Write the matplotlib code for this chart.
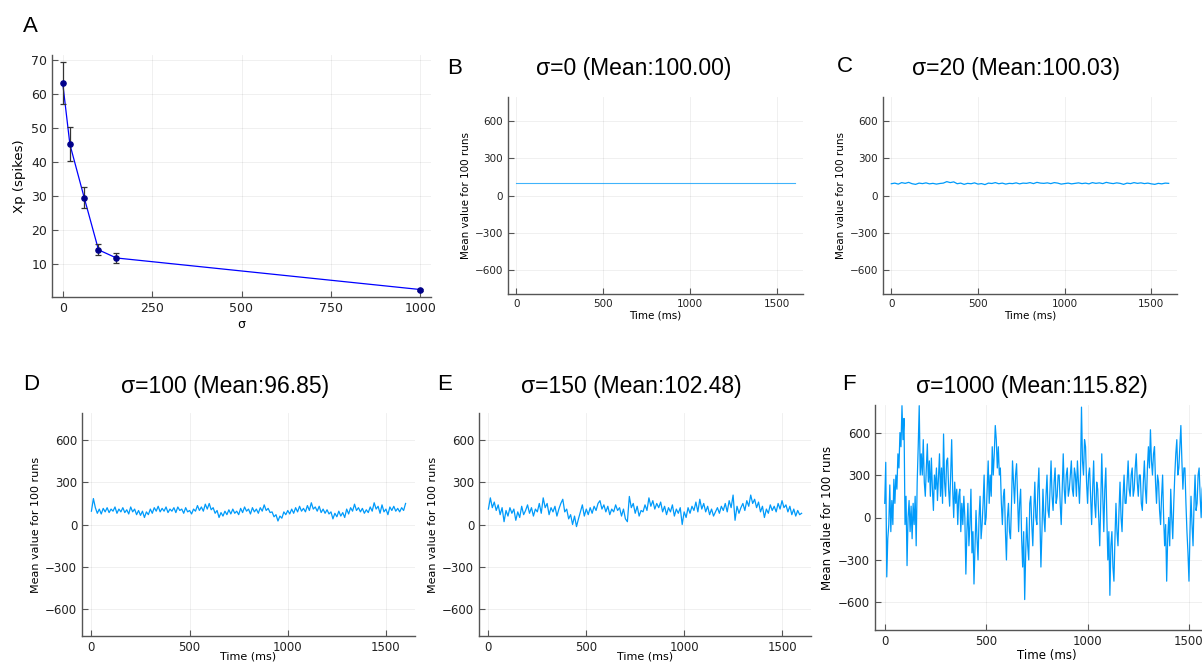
import numpy as np
import matplotlib.pyplot as plt

plt.rcParams['font.family'] = ['DejaVu Sans']

# panel A
sigmas = [0, 20, 60, 100, 150, 1000]
xp_mean = [63.3, 45.3, 29.6, 14.2, 11.8, 2.5]
xp_err = [6.2, 5.0, 3.0, 1.6, 1.5, 0.3]

# panels B-F, evenly sampled over 0..1600 ms
b_vals = [100.0, 100.0]
b_time = [0, 1600]

c_vals = [95, 100, 92, 104, 98, 106, 95, 90, 100, 96,
          102, 94, 98, 92, 97, 100, 112, 104, 110, 95,
          100, 90, 98, 95, 102, 92, 96, 88, 100, 97,
          104, 95, 100, 92, 98, 96, 102, 94, 100, 98,
          104, 96, 106, 100, 98, 102, 96, 104, 100, 92,
          96, 100, 94, 98, 102, 96, 100, 94, 104, 98,
          102, 96, 106, 100, 96, 102, 98, 90, 100, 96,
          104, 98, 102, 96, 100, 94, 90, 98, 94, 100,
          98]

d_vals = [95, 185, 120, 80, 110, 75, 115, 90, 120, 85,
          110, 95, 125, 80, 110, 90, 120, 85, 105, 75,
          125, 90, 110, 70, 100, 65, 95, 50, 90, 70,
          110, 80, 120, 95, 130, 90, 115, 95, 125, 85,
          110, 95, 120, 85, 125, 100, 110, 80, 120, 90,
          100, 75, 110, 95, 135, 100, 125, 95, 145, 110,
          150, 105, 120, 80, 100, 50, 85, 60, 95, 70,
          105, 75, 110, 80, 95, 70, 115, 85, 125, 95,
          110, 75, 120, 90, 110, 80, 120, 95, 140, 100,
          115, 85, 90, 55, 70, 25, 60, 45, 90, 70,
          100, 75, 110, 80, 120, 90, 130, 95, 115, 90,
          135, 100, 155, 110, 125, 95, 130, 85, 110, 80,
          105, 75, 90, 40, 80, 55, 95, 60, 85, 50,
          110, 75, 120, 95, 145, 100, 120, 90, 115, 80,
          105, 85, 125, 95, 155, 110, 130, 80, 140, 90,
          110, 70, 125, 100, 130, 95, 115, 90, 120, 100,
          150]

e_vals = [110, 190, 120, 160, 100, 140, 70, 120, 20, 100,
          60, 120, 80, 110, 30, 90, 50, 130, 70, 100,
          140, 80, 120, 60, 110, 90, 150, 80, 190, 120,
          150, 70, 120, 90, 130, 60, 110, 150, 180, 90,
          110, 40, 70, 0, 60, -15, 40, 90, 140, 60,
          110, 70, 120, 80, 130, 100, 150, 170, 110, 140,
          90, 130, 70, 110, 90, 140, 100, 120, 60, 110,
          40, 20, 200, 120, 150, 80, 130, 60, 100, 90,
          140, 100, 190, 130, 170, 110, 150, 120, 160, 90,
          130, 70, 120, 90, 140, 60, 110, 80, 120, 0,
          90, 50, 120, 80, 130, 100, 160, 90, 180, 110,
          150, 90, 130, 70, 110, 60, 90, 120, 80, 130,
          100, 150, 90, 170, 120, 210, 30, 130, 80, 120,
          150, 100, 170, 130, 210, 150, 180, 120, 160, 90,
          130, 50, 110, 80, 140, 100, 130, 90, 150, 110,
          170, 120, 140, 90, 130, 70, 110, 60, 100, 70,
          80]

f_vals = [100, 390, -420, -150, -50, 230, -100, 120, -50, 270,
          100, 300, 200, 450, 350, 600, 500, 790, 550, 700,
          -50, 150, -340, 0, 120, -100, 80, -150, 100, -50,
          150, -200, 250, 500, 790, 300, 450, 300, 550, 250,
          150, 350, 520, 250, 400, 150, 420, 200, 50, 300,
          200, 350, 120, 280, 450, 150, 350, 100, 590, 250,
          150, 400, 420, 200, 80, 300, 550, 200, 0, 250,
          100, 200, -50, 150, 200, -100, 100, -50, 150, 0,
          -400, -100, 100, -200, -50, 200, -250, -100, -470, -200,
          50, -150, -300, 0, 150, -150, -50, 100, 300, -50,
          0, 200, 400, 100, 300, 150, 500, 300, 450, 650,
          550, 350, 500, 300, 350, 100, -50, 150, 200, -100,
          -300, 0, 100, -100, -150, 100, 400, 250, 100, 300,
          380, 150, -100, 100, 200, -150, -350, -100, -580, -250,
          0, -200, -300, 100, 150, -50, -200, 50, 250, 0,
          -50, 200, 350, 0, -350, -100, 200, 0, -100, 150,
          300, 50, 0, 200, 400, 150, 50, 250, 350, 100,
          150, 300, 300, 100, -50, 200, 450, 200, 100, 300,
          350, 150, 200, 300, 400, 200, 150, 350, 300, 150,
          400, 250, 100, 300, 780, 400, 300, 550, 500, 250,
          100, 300, 350, 150, -50, 200, 400, 100, 0, 250,
          200, 0, -200, 100, 450, 150, -100, 200, 350, 0,
          -300, -100, -550, -200, -100, -350, -450, -150, 100, -100,
          -200, 50, 250, 0, -100, 150, 300, 100, 100, 250,
          400, 200, 150, 300, 350, 150, 200, 350, 450, 250,
          150, 300, 300, 100, 50, 250, 400, 200, 100, 350,
          500, 350, 620, 400, 300, 450, 500, 250, 100, 300,
          250, 50, -50, 150, 300, 0, -200, -50, -450, -150,
          0, -200, 200, 0, -150, 100, 300, 450, 550, 300,
          350, 500, 650, 400, 200, 350, 350, 100, -100, -250,
          -450, -100, 150, -50, -200, 100, 300, 50, 100, 300,
          350, 150, 0, 200, 250, 50, 50, 250, 300, 100,
          150]

panels = [
    ('B', 'σ=0 (Mean:100.00)', b_time, b_vals),
    ('C', 'σ=20 (Mean:100.03)', None, c_vals),
    ('D', 'σ=100 (Mean:96.85)', None, d_vals),
    ('E', 'σ=150 (Mean:102.48)', None, e_vals),
    ('F', 'σ=1000 (Mean:115.82)', None, f_vals),
]

W, H = 1202, 664
fig = plt.figure(figsize=(12.02, 6.64), dpi=100)

def box(l, t, r, b):
    return [l / W, 1 - b / H, (r - l) / W, (b - t) / H]

def style(ax, fs):
    for s in ['top', 'right']:
        ax.spines[s].set_visible(False)
    for s in ['left', 'bottom']:
        ax.spines[s].set_color('#555555')
        ax.spines[s].set_linewidth(1.0)
    ax.tick_params(direction='in', length=4, width=0.8, color='#555555',
                   labelsize=fs, labelcolor='#222222')
    ax.grid(True, color='black', alpha=0.07, linewidth=0.6)
    ax.set_axisbelow(True)

def letter(x, y, s):
    fig.text(x / W, 1 - y / H, s, fontsize=16, family='Liberation Sans',
             ha='center', va='center')

# A
axA = fig.add_axes(box(52, 55, 431, 297))
axA.plot(sigmas, xp_mean, color='#0000FF', lw=0.9, zorder=2)
axA.errorbar(sigmas, xp_mean, yerr=xp_err, fmt='none', ecolor='#333333',
             elinewidth=0.9, capsize=2.5, capthick=0.9, zorder=3)
axA.scatter(sigmas, xp_mean, s=14, color='#00008B', zorder=4)
axA.set_xlim(-30, 1030)
axA.set_ylim(0.3, 71.6)
axA.set_xticks([0, 250, 500, 750, 1000])
axA.set_yticks([10, 20, 30, 40, 50, 60, 70])
style(axA, 9)
axA.set_xlabel('σ', fontsize=9, labelpad=2)
axA.set_ylabel('Xp (spikes)', fontsize=9.5, labelpad=4)
letter(30, 26, 'A')

# B-F: position, tick size, label size, xlabel pad, letter xy, title xy
boxes = {
    'B': (box(508, 97, 803, 294), 7.5, 7.5, 1, (455, 68), (634, 68)),
    'C': (box(883, 97, 1177, 294), 7.5, 7.5, 1, (845, 66), (1016, 69)),
    'D': (box(82, 413, 415, 636), 8.5, 8, -1.5, (31, 385), (225, 386)),
    'E': (box(479, 413, 811, 636), 8.5, 8, -1.5, (445, 385), (631, 386)),
    'F': (box(875, 405, 1219, 630), 8.5, 8.5, 1, (849, 385), (1032, 386)),
}

for key, title, tt, vals in panels:
    pos, fs, lfs, xpad, lpos, tpos = boxes[key]
    ax = fig.add_axes(pos)
    if tt is None:
        tt = np.arange(len(vals)) * (1600 / (len(vals) - 1))
    if key == 'B':
        ax.plot(tt, vals, color='#009AFA', lw=0.8, alpha=0.75)
    else:
        ax.plot(tt, vals, color='#009AFA', lw=0.9)
    ax.set_xlim(-48, 1648)
    ax.set_ylim(-795, 795)
    ax.set_xticks([0, 500, 1000, 1500])
    ax.set_yticks([-600, -300, 0, 300, 600])
    style(ax, fs)
    ax.set_xlabel('Time (ms)', fontsize=lfs, labelpad=xpad)
    ax.set_ylabel('Mean value for 100 runs', fontsize=lfs, labelpad=3)
    letter(lpos[0], lpos[1], key)
    fig.text(tpos[0] / W, 1 - tpos[1] / H, title, fontsize=16.5,
             family='Liberation Sans', ha='center', va='center')

fig.savefig('out.png', dpi=100)
